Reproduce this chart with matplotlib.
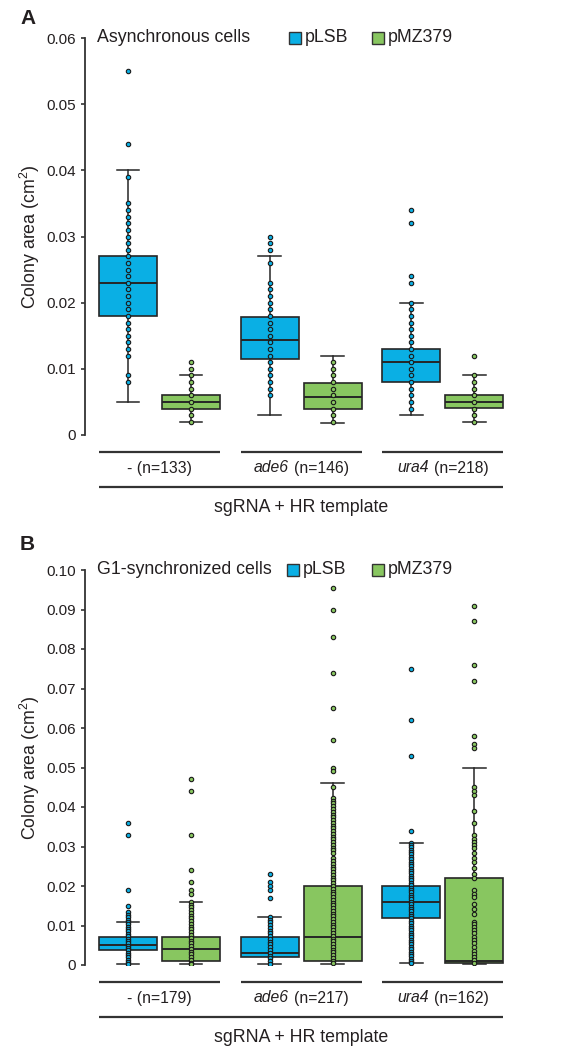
import matplotlib
matplotlib.use("Agg")
import matplotlib.pyplot as plt
import matplotlib.transforms as mtransforms
from matplotlib.patches import Rectangle
from matplotlib.offsetbox import TextArea, HPacker, AnnotationBbox
import numpy as np

plt.rcParams['font.family'] = ['Liberation Sans', 'DejaVu Sans']
plt.rcParams['mathtext.fontset'] = 'custom'
plt.rcParams['mathtext.rm'] = 'Liberation Sans'
plt.rcParams['mathtext.it'] = 'Liberation Sans:italic'

# ---------------- data ----------------
groups = ['-', 'ade6', 'ura4']
series = ['pLSB', 'pMZ379']
A_n = [133, 146, 218]
B_n = [179, 217, 162]

# Panel A box statistics (cm^2), one value per group
A_pLSB_whislo = [0.005, 0.003, 0.003]
A_pLSB_q1 = [0.018, 0.0115, 0.008]
A_pLSB_med = [0.023, 0.0143, 0.011]
A_pLSB_q3 = [0.027, 0.0178, 0.013]
A_pLSB_whishi = [0.040, 0.027, 0.020]

A_pMZ_whislo = [0.002, 0.0018, 0.002]
A_pMZ_q1 = [0.0039, 0.0039, 0.0041]
A_pMZ_med = [0.005, 0.0058, 0.005]
A_pMZ_q3 = [0.0061, 0.0079, 0.006]
A_pMZ_whishi = [0.009, 0.012, 0.009]

# Panel B box statistics
B_pLSB_whislo = [0.0003, 0.0003, 0.0006]
B_pLSB_q1 = [0.0038, 0.0019, 0.012]
B_pLSB_med = [0.0051, 0.0031, 0.016]
B_pLSB_q3 = [0.0071, 0.0072, 0.020]
B_pLSB_whishi = [0.011, 0.0122, 0.031]

B_pMZ_whislo = [0.0002, 0.0003, 0.0002]
B_pMZ_q1 = [0.0011, 0.0010, 0.0004]
B_pMZ_med = [0.0040, 0.0072, 0.0010]
B_pMZ_q3 = [0.0071, 0.020, 0.022]
B_pMZ_whishi = [0.016, 0.046, 0.050]

# Panel A individual points
A_pLSB_pts_none = [0.055, 0.044, 0.039, 0.035, 0.034, 0.033, 0.032, 0.031, 0.030,
                   0.029, 0.028, 0.027, 0.026, 0.025, 0.024, 0.023, 0.022, 0.021,
                   0.020, 0.019, 0.018, 0.017, 0.016, 0.015, 0.014, 0.013, 0.012,
                   0.009, 0.008]
A_pMZ_pts_none = [0.011, 0.010, 0.009, 0.008, 0.007, 0.006, 0.005, 0.004, 0.003, 0.002]
A_pLSB_pts_ade6 = [0.030, 0.029, 0.028, 0.026, 0.023, 0.022, 0.021, 0.020, 0.019,
                   0.018, 0.017, 0.016, 0.015, 0.014, 0.013, 0.012, 0.011, 0.010,
                   0.009, 0.008, 0.007, 0.006]
A_pMZ_pts_ade6 = [0.011, 0.010, 0.009, 0.008, 0.007, 0.006, 0.005, 0.004, 0.003, 0.002]
A_pLSB_pts_ura4 = [0.034, 0.032, 0.024, 0.023, 0.020, 0.019, 0.018, 0.017, 0.016,
                   0.015, 0.014, 0.013, 0.012, 0.011, 0.010, 0.009, 0.008, 0.007,
                   0.006, 0.005, 0.004]
A_pMZ_pts_ura4 = [0.012, 0.009, 0.008, 0.007, 0.006, 0.005, 0.004, 0.003, 0.002]

# Panel B individual points
B_pLSB_pts_none = [0.036, 0.033, 0.019, 0.015, 0.0133, 0.0127, 0.0121, 0.0115, 0.0109,
                   0.0103, 0.0097, 0.0091, 0.0085, 0.0079, 0.0073, 0.0067, 0.0061,
                   0.0055, 0.0049, 0.0043, 0.0037, 0.0031, 0.0025, 0.0019, 0.0013,
                   0.0007, 0.0003]
B_pMZ_pts_none = [0.047, 0.044, 0.033, 0.024, 0.021, 0.019, 0.018, 0.016, 0.0153,
                  0.0146, 0.0139, 0.0132, 0.0125, 0.0118, 0.0111, 0.0104, 0.0097,
                  0.0090, 0.0083, 0.0076, 0.0069, 0.0062, 0.0055, 0.0048, 0.0041,
                  0.0034, 0.0027, 0.0020, 0.0013, 0.0006, 0.0002]
B_pLSB_pts_ade6 = [0.023, 0.021, 0.020, 0.019, 0.017, 0.0122, 0.0115, 0.0108, 0.0101,
                   0.0094, 0.0087, 0.0080, 0.0073, 0.0066, 0.0059, 0.0052, 0.0045,
                   0.0038, 0.0031, 0.0024, 0.0017, 0.0010, 0.0003]
B_pMZ_pts_ade6 = [0.0955, 0.090, 0.083, 0.074, 0.065, 0.057, 0.050, 0.049, 0.045,
                  0.0423, 0.0416, 0.0409, 0.0402, 0.0395, 0.0388, 0.0381, 0.0374,
                  0.0367, 0.0360, 0.0353, 0.0346, 0.0339, 0.0332, 0.0325, 0.0318,
                  0.0311, 0.0304, 0.0297, 0.0290, 0.0283, 0.0270, 0.0263, 0.0256,
                  0.0249, 0.0242, 0.0235, 0.0228, 0.0221, 0.0214, 0.0207, 0.0200,
                  0.0193, 0.0186, 0.0179, 0.0172, 0.0165, 0.0158, 0.0151, 0.0144,
                  0.0137, 0.0130, 0.0123, 0.0116, 0.0109, 0.0102, 0.0095, 0.0088,
                  0.0081, 0.0074, 0.0067, 0.0060, 0.0053, 0.0046, 0.0039, 0.0032,
                  0.0025, 0.0018, 0.0011, 0.0004]
B_pLSB_pts_ura4 = [0.075, 0.062, 0.053, 0.034, 0.0310, 0.0304, 0.0298, 0.0292, 0.0286,
                   0.0280, 0.0274, 0.0268, 0.0262, 0.0256, 0.0250, 0.0244, 0.0238,
                   0.0232, 0.0226, 0.0220, 0.0214, 0.0208, 0.0202, 0.0196, 0.0190,
                   0.0184, 0.0178, 0.0172, 0.0166, 0.0160, 0.0154, 0.0148, 0.0142,
                   0.0136, 0.0130, 0.0124, 0.0118, 0.0112, 0.0106, 0.0100, 0.0094,
                   0.0088, 0.0082, 0.0076, 0.0070, 0.0064, 0.0058, 0.0052, 0.0046,
                   0.0040, 0.0034, 0.0028, 0.0022, 0.0016, 0.0010, 0.0006]
B_pMZ_pts_ura4 = [0.091, 0.087, 0.076, 0.072, 0.058, 0.056, 0.055, 0.045, 0.044,
                  0.043, 0.039, 0.036, 0.033, 0.032, 0.0312, 0.0304, 0.0296, 0.0283,
                  0.027, 0.026, 0.0245, 0.023, 0.022, 0.019, 0.018, 0.0172, 0.0155,
                  0.0143, 0.013, 0.011, 0.0103, 0.0097, 0.0088, 0.008, 0.007, 0.0063,
                  0.0055, 0.0046, 0.0036, 0.0028, 0.0021, 0.0013, 0.0004]

A_yticks = [0, 0.01, 0.02, 0.03, 0.04, 0.05, 0.06]
A_yticklabels = ['0', '0.01', '0.02', '0.03', '0.04', '0.05', '0.06']
B_yticks = [0, 0.01, 0.02, 0.03, 0.04, 0.05, 0.06, 0.07, 0.08, 0.09, 0.10]
B_yticklabels = ['0', '0.01', '0.02', '0.03', '0.04', '0.05', '0.06', '0.07',
                 '0.08', '0.09', '0.10']

# ---------------- style ----------------
BLUE = '#0AAFE4'
GREEN = '#88C660'
EDGE = '#262626'
TXT = '#231f20'
OFF = 0.222
BW = 0.409

W, H = 584, 1057
fig = plt.figure(figsize=(W / 100, H / 100), dpi=100)
axA = fig.add_axes([85 / W, (H - 435) / H, 425 / W, 397 / H])
axB = fig.add_axes([85 / W, (H - 965) / H, 425 / W, 395 / H])


def stats_list(lo, q1, med, q3, hi):
    return [dict(whislo=lo[i], q1=q1[i], med=med[i], q3=q3[i], whishi=hi[i], fliers=[])
            for i in range(len(med))]


def draw_panel(ax, pl_stats, mz_stats, pl_pts, mz_pts, ymax, yticks, yticklabels,
               title, ns, leg_x, ax_h_px):
    gpos = np.arange(len(groups))
    for stats, pts, off, col in [(pl_stats, pl_pts, -OFF, BLUE), (mz_stats, mz_pts, OFF, GREEN)]:
        ax.bxp(stats, positions=gpos + off, widths=BW, patch_artist=True,
               showfliers=False, manage_ticks=False,
               boxprops=dict(facecolor=col, edgecolor=EDGE, linewidth=1.2),
               medianprops=dict(color=EDGE, linewidth=1.4),
               whiskerprops=dict(color=EDGE, linewidth=1.1),
               capprops=dict(color=EDGE, linewidth=1.1),
               capwidths=0.16)
        for g, p in zip(gpos, pts):
            ax.scatter(np.full(len(p), g + off), p, s=10, facecolor=col,
                       edgecolor='#1a1a1a', linewidths=0.8, zorder=4)

    ax.set_xlim(-0.5256, 2.4737)
    ax.set_ylim(0, ymax)
    for s in ['top', 'right', 'bottom']:
        ax.spines[s].set_visible(False)
    ax.spines['left'].set_linewidth(1.3)
    ax.spines['left'].set_color('#333333')
    ax.set_xticks([])
    ax.set_yticks(yticks)
    ax.set_yticklabels(yticklabels)
    ax.tick_params(axis='y', length=3, width=1.2, pad=3.5, labelsize=11,
                   color='#333333', labelcolor=TXT)
    ax.set_ylabel('Colony area (cm$^2$)', fontsize=12.8, color=TXT)
    ax.yaxis.set_label_coords(-0.102, 0.5)

    trans = mtransforms.blended_transform_factory(ax.transData, ax.transAxes)
    for g in gpos:
        x0 = g - OFF - BW / 2
        x1 = g + OFF + BW / 2
        ax.plot([x0, x1], [-17 / ax_h_px] * 2, transform=trans, clip_on=False,
                color='#333333', lw=1.6, solid_capstyle='butt')
        name = groups[g]
        plain = dict(fontsize=11.3, color=TXT)
        ital = dict(fontsize=11.3, color=TXT, style='italic')
        if name == '-':
            parts = [TextArea(f'- (n={ns[g]})', textprops=plain)]
        else:
            parts = [TextArea(name, textprops=ital),
                     TextArea(f'(n={ns[g]})', textprops=plain)]
        pack = HPacker(children=parts, pad=0, sep=4, align='baseline')
        ab = AnnotationBbox(pack, (g, -33 / ax_h_px), xycoords=trans,
                            box_alignment=(0.5, 0.5), frameon=False, pad=0,
                            annotation_clip=False)
        ax.add_artist(ab)
    ax.plot([-OFF - BW / 2, 2 + OFF + BW / 2], [-52 / ax_h_px] * 2, transform=trans,
            clip_on=False, color='#333333', lw=1.6, solid_capstyle='butt')
    ax.text(1, -72 / ax_h_px, 'sgRNA + HR template', transform=trans, ha='center',
            va='center', fontsize=12.8, color=TXT)

    # legend
    ax.text(12 / 425, 1.0, title, transform=ax.transAxes, ha='left', va='center',
            fontsize=12.8, color=TXT)
    sq_w = 12 / 425
    sq_h = 12 / ax_h_px
    for lx, col, lab in zip(leg_x, [BLUE, GREEN], series):
        ax.add_patch(Rectangle((lx, 1.0 - sq_h / 2), sq_w, sq_h, transform=ax.transAxes,
                               facecolor=col, edgecolor='#333333', lw=1.0, clip_on=False))
        ax.text(lx + sq_w + 4 / 425, 1.0, lab, transform=ax.transAxes, ha='left',
                va='center', fontsize=12.8, color=TXT)


draw_panel(axA,
           stats_list(A_pLSB_whislo, A_pLSB_q1, A_pLSB_med, A_pLSB_q3, A_pLSB_whishi),
           stats_list(A_pMZ_whislo, A_pMZ_q1, A_pMZ_med, A_pMZ_q3, A_pMZ_whishi),
           [A_pLSB_pts_none, A_pLSB_pts_ade6, A_pLSB_pts_ura4],
           [A_pMZ_pts_none, A_pMZ_pts_ade6, A_pMZ_pts_ura4],
           0.06, A_yticks, A_yticklabels, 'Asynchronous cells', A_n,
           [(289 - 85) / 425, (372 - 85) / 425], 397)

draw_panel(axB,
           stats_list(B_pLSB_whislo, B_pLSB_q1, B_pLSB_med, B_pLSB_q3, B_pLSB_whishi),
           stats_list(B_pMZ_whislo, B_pMZ_q1, B_pMZ_med, B_pMZ_q3, B_pMZ_whishi),
           [B_pLSB_pts_none, B_pLSB_pts_ade6, B_pLSB_pts_ura4],
           [B_pMZ_pts_none, B_pMZ_pts_ade6, B_pMZ_pts_ura4],
           0.10, B_yticks, B_yticklabels, 'G1-synchronized cells', B_n,
           [(287 - 85) / 425, (372 - 85) / 425], 395)

fig.text(20 / W, 1 - 18 / H, 'A', fontsize=15, fontweight='bold', color=TXT,
         ha='left', va='center')
fig.text(20 / W, 1 - 545 / H, 'B', fontsize=15, fontweight='bold', color=TXT,
         ha='left', va='center')

fig.savefig('out.png', dpi=100)
